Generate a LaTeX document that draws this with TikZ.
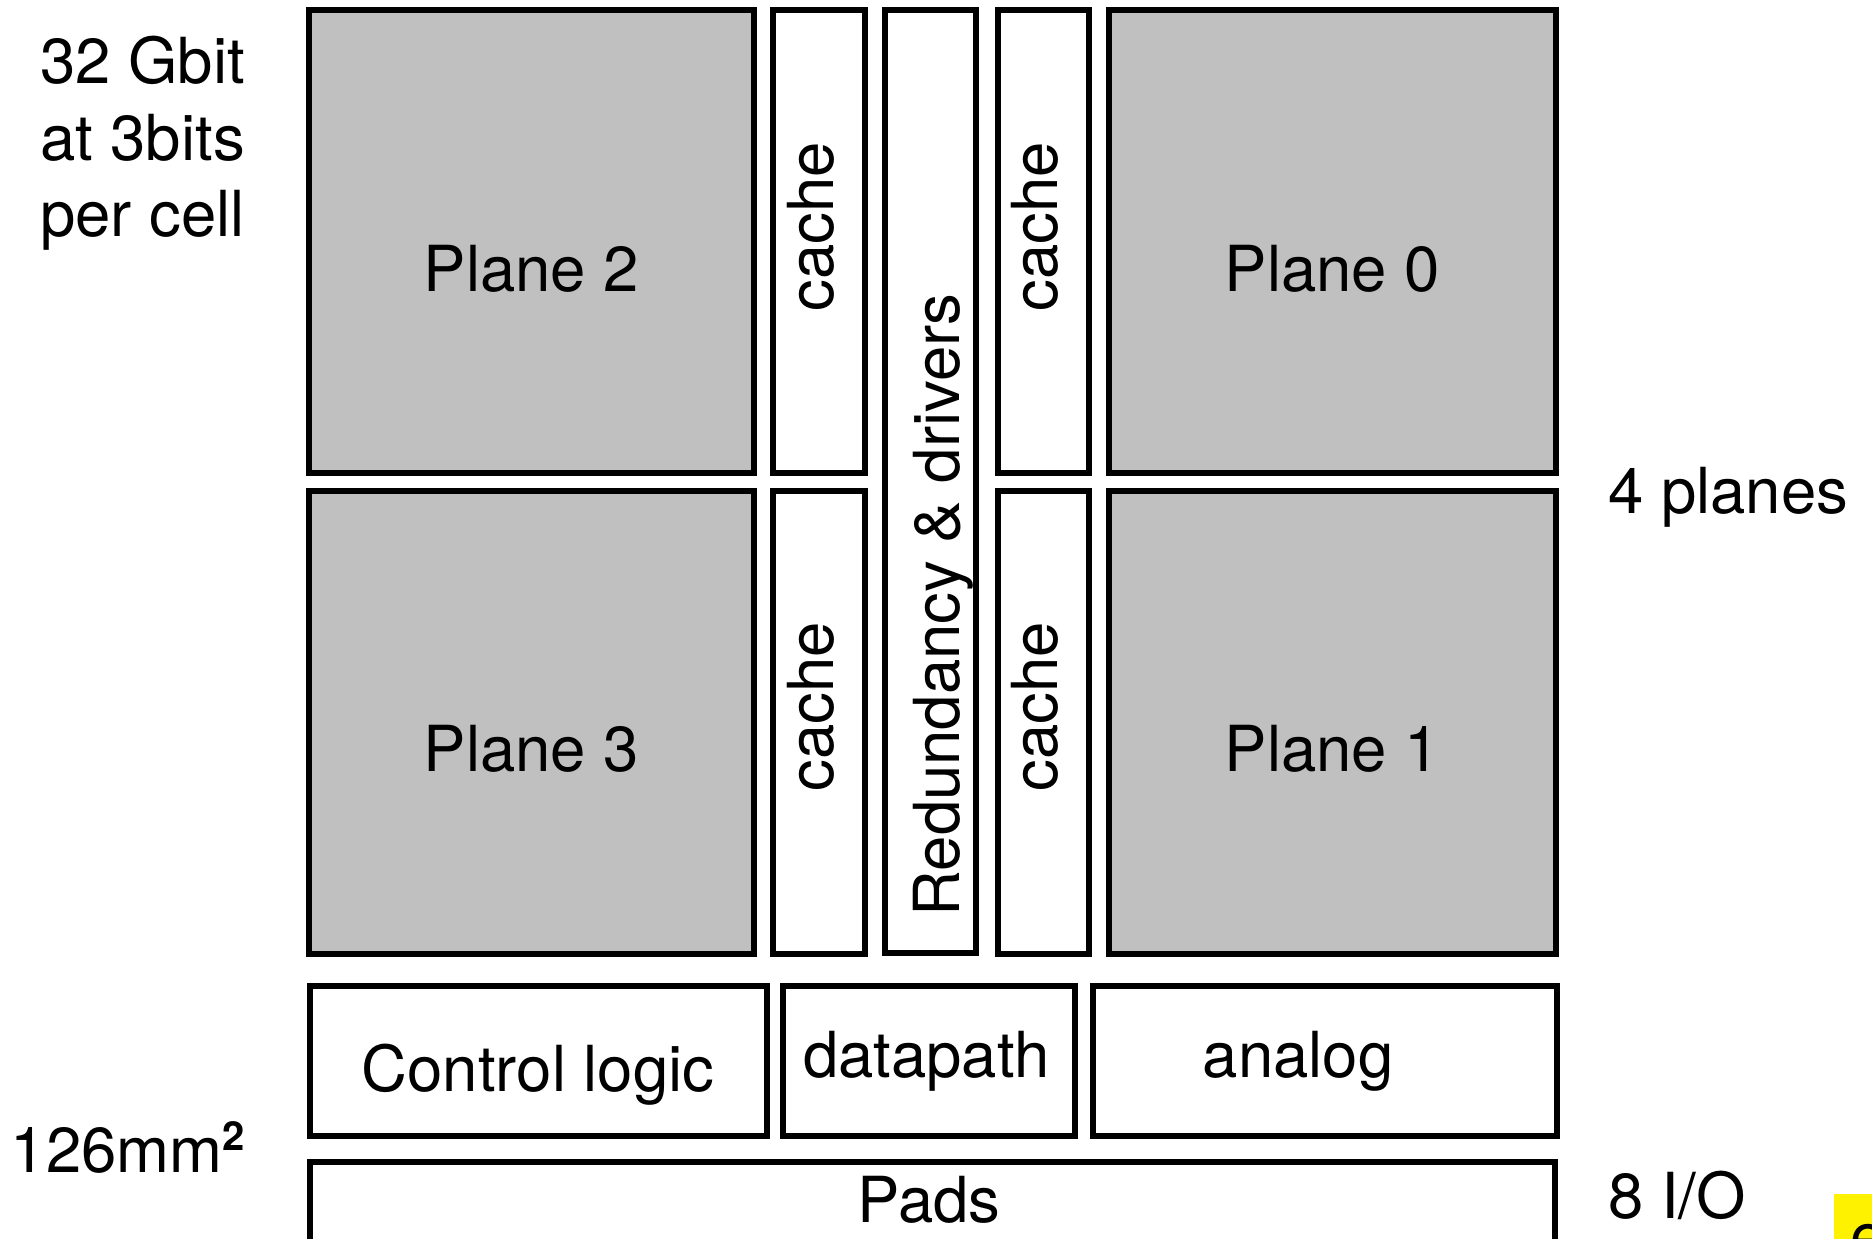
\documentclass[tikz,border=0pt]{standalone}
\usepackage{fontspec}
\setmainfont{TeX Gyre Heros}
\begin{document}
\begin{tikzpicture}[x=1pt,y=-1pt,
  blk/.style={draw=black,line width=6pt,inner sep=0pt,minimum width=#1},
  plane/.style={blk=445pt,fill=planegray,minimum height=463pt},
  cachebox/.style={blk=92pt,fill=white,minimum height=463pt},
  lbl/.style={inner sep=0pt,anchor=base,font=\fontsize{63.5}{76}\selectfont},
  vlbl/.style={lbl,rotate=90}]
\definecolor{planegray}{RGB}{192,192,192}
\useasboundingbox (0,0) rectangle (1872,1239);
\fill[white] (0,0) rectangle (1872,1239);

% memory planes
\node[plane] (p2) at (531.5,241.5) {};
\node[plane] (p3) at (531.5,722) {};
\node[plane,minimum width=447pt] (p0) at (1332.5,241.5) {};
\node[plane,minimum width=447pt] (p1) at (1332.5,722) {};

% page caches and the central strip
\node[cachebox] (c2) at (819,241.5) {};
\node[cachebox] (c3) at (819,722) {};
\node[cachebox,minimum width=91pt] (c0) at (1043.5,241.5) {};
\node[cachebox,minimum width=91pt] (c1) at (1043.5,722) {};
\node[blk=91pt,fill=white,minimum height=943pt] (red) at (930.5,481.5) {};

% periphery
\node[blk=457pt,minimum height=150.6pt] (ctl) at (538,1061) {};
\node[blk=292pt,minimum height=150.6pt] (dp) at (929,1061) {};
\node[blk=464pt,minimum height=150.6pt] (an) at (1325,1061) {};
\node[blk=1245.5pt,minimum height=276pt] (pads) at (932.3,1300) {};

% labels inside blocks
\node[lbl] (tp2) at (531.5,291) {Plane 2};
\node[lbl] (tp3) at (531.5,771) {Plane 3};
\node[lbl] (tp0) at (1332.5,291) {Plane 0};
\node[lbl] (tp1) at (1332.5,771) {Plane 1};
\node[vlbl] (tc2) at (833,227) {cache};
\node[vlbl] (tc3) at (833,707) {cache};
\node[vlbl] (tc0) at (1057,227) {cache};
\node[vlbl] (tc1) at (1057,707) {cache};
\node[vlbl] (tred) at (959,605) {Redundancy \& drivers};
\node[lbl] (tctl) at (538,1091) {Control logic};
\node[lbl] (tdp) at (926.5,1077) {datapath};
\node[lbl] (tan) at (1298,1077) {analog};
\node[lbl] (tpads) at (929,1222.6) {Pads};

% side notes
\node[lbl,anchor=base east] (n1) at (245,83.6) {32 Gbit};
\node[lbl,anchor=base east] (n2) at (245,160) {at 3bits};
\node[lbl,anchor=base east] (n3) at (245,236.4) {per cell};
\node[lbl,anchor=base east] (n4) at (245,1172.5) {126mm\raisebox{22pt}{\fontsize{40}{40}\selectfont\bfseries 2}};
\node[lbl,anchor=base west] (n5) at (1608,513.5) {4 planes};
\node[lbl,anchor=base west] (n6) at (1608,1218) {8 I/O};

% highlighted tag at the lower right edge
\node[fill=yellow,inner sep=0pt,minimum width=50pt,minimum height=60pt,anchor=north west] (tag) at (1834,1194) {};
\node[lbl,anchor=base west] (tagtxt) at (1850,1258) {e};
\end{tikzpicture}
\end{document}
